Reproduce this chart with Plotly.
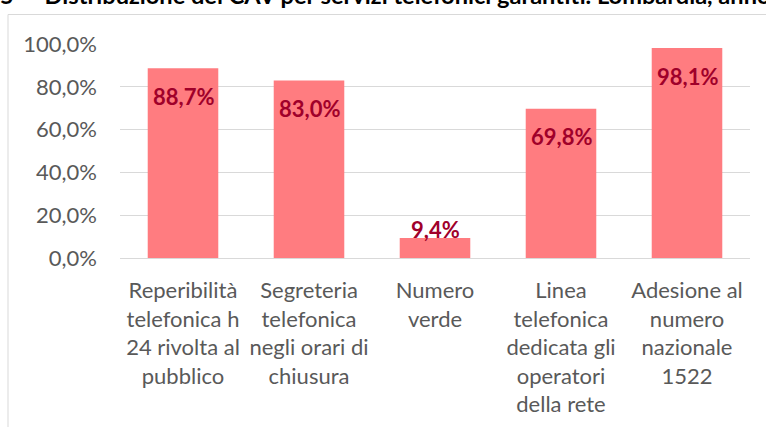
import plotly.graph_objects as go

categories = [
    "Reperibilità<br>telefonica h<br>24 rivolta al<br>pubblico",
    "Segreteria<br>telefonica<br>negli orari di<br>chiusura",
    "Numero<br>verde",
    "Linea<br>telefonica<br>dedicata gli<br>operatori<br>della rete",
    "Adesione al<br>numero<br>nazionale<br>1522",
]
values = [0.887, 0.830, 0.094, 0.698, 0.981]
label_inside = [True, True, False, True, True]
title_text = "5 –  Distribuzione dei CAV per servizi telefonici garantiti. Lombardia, anno 2019"

W, H = 766, 427
L, R, T, B = 120, 16, 44, 169
pw, ph = W - L - R, H - T - B

def px_x(p):
    return (p - L) / pw

def px_y(p):
    return 1 - (p - T) / ph

FONT = "Lato"
FS = 22

fig = go.Figure(go.Bar(
    x=categories, y=values,
    marker=dict(color="#FF7C80", line=dict(width=0)),
    width=0.56,
    hoverinfo="skip",
))

annotations = []
for c, v, inside in zip(categories, values, label_inside):
    annotations.append(dict(
        x=c, y=v, xref="x", yref="y",
        text=f"{v*100:.1f}%".replace(".", ","),
        showarrow=False, yanchor="middle",
        yshift=-28 if inside else 8,
        font=dict(family=FONT, size=FS, color="#A0002A", weight="bold"),
    ))

annotations.append(dict(
    text=title_text, xref="paper", yref="paper",
    x=px_x(-2), y=px_y(-5), xanchor="left", yanchor="middle",
    showarrow=False, font=dict(family=FONT, size=23.6, color="black", weight="bold"),
))

fig.update_layout(
    width=W, height=H,
    margin=dict(l=L, r=R, t=T, b=B, autoexpand=False),
    paper_bgcolor="white", plot_bgcolor="white",
    showlegend=False,
    hovermode=False,
    font=dict(family=FONT, color="#595959"),
    xaxis=dict(
        tickfont=dict(family=FONT, size=FS, color="#595959"),
        showgrid=False, showline=False, ticks="", automargin=False,
        ticklabelstandoff=17,
    ),
    yaxis=dict(
        range=[0, 1.0], dtick=0.2, tickformat=".1%",
        tickfont=dict(family=FONT, size=FS, color="#595959"),
        showgrid=True, gridcolor="#D9D9D9", gridwidth=1,
        zeroline=True, zerolinecolor="#D9D9D9", zerolinewidth=1,
        showline=False, ticks="", ticklabelstandoff=22, automargin=False,
    ),
    separators=",.",
    shapes=[dict(
        type="rect", xref="paper", yref="paper",
        x0=px_x(8), x1=px_x(820), y0=px_y(470), y1=px_y(14.5),
        line=dict(color="#D9D9D9", width=1), fillcolor="rgba(0,0,0,0)", layer="below",
    )],
    annotations=annotations,
)

fig.write_html(
    "out.html",
    config={"displayModeBar": False, "staticPlot": True},
    post_script="document.body.style.margin='0px';document.body.style.overflow='hidden';",
)
